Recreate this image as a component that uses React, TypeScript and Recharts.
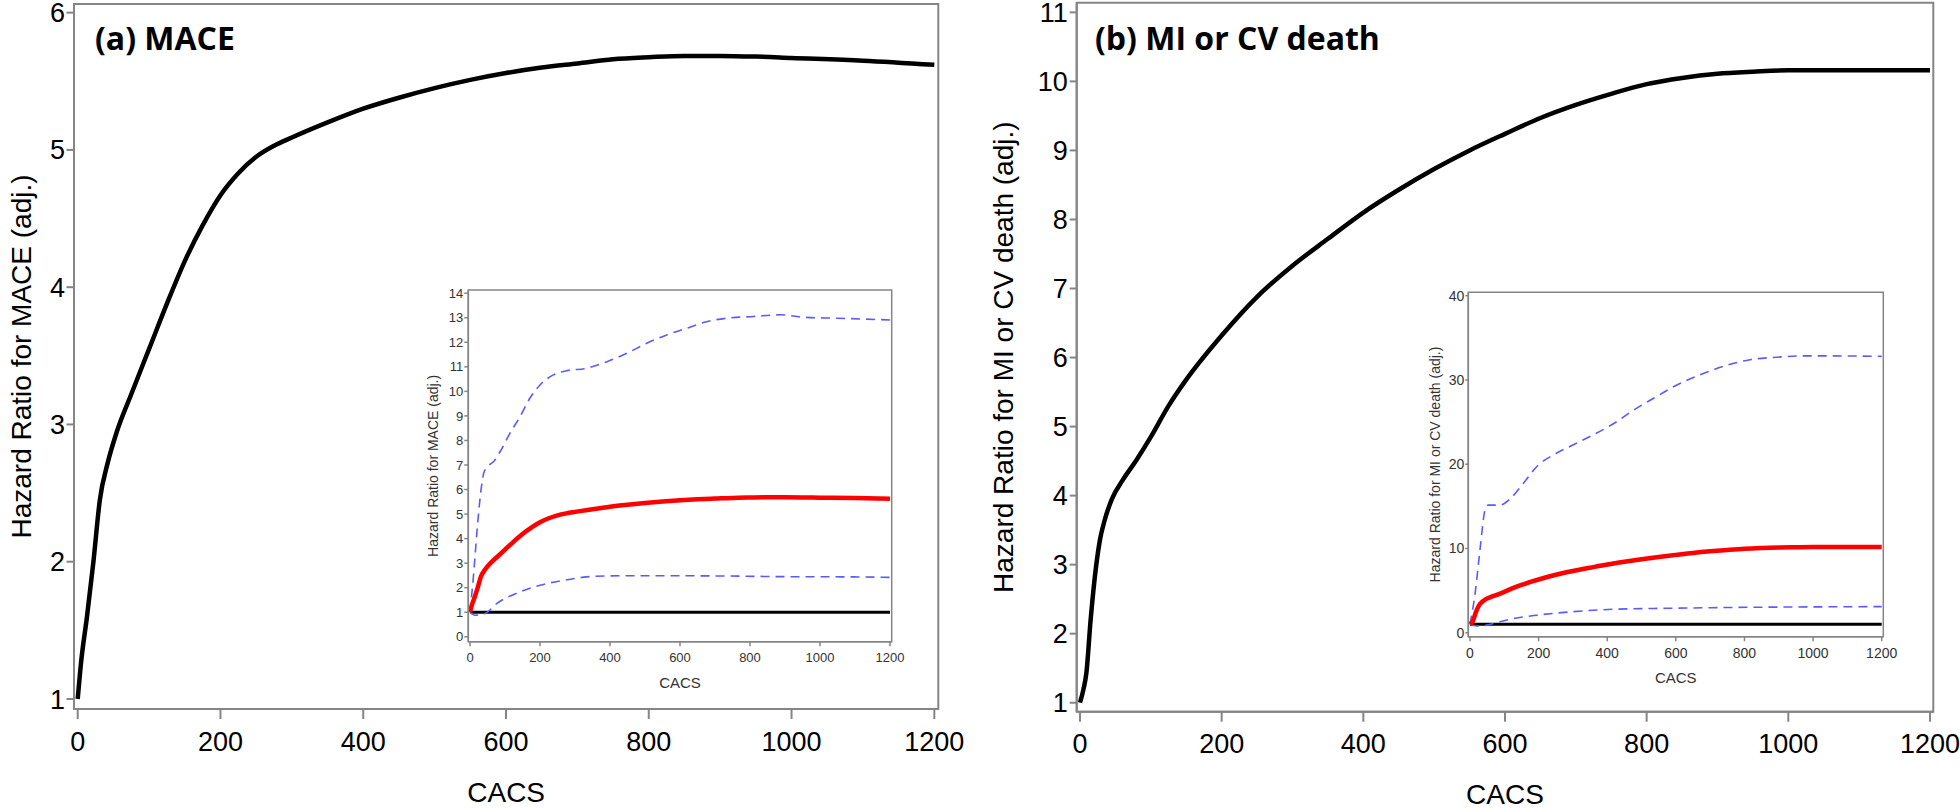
import React from 'react';
import { LineChart, Line, XAxis, YAxis, ReferenceArea } from 'recharts';

// ---------- tick labels ----------
const xTicks = [0, 200, 400, 600, 800, 1000, 1200];
const maceYTicks = [1, 2, 3, 4, 5, 6];
const mivdYTicks = [1, 2, 3, 4, 5, 6, 7, 8, 9, 10, 11];
const maceInsetYTicks = [0, 1, 2, 3, 4, 5, 6, 7, 8, 9, 10, 11, 12, 13, 14];
const mivdInsetYTicks = [0, 10, 20, 30, 40];

// ---------- (a) MACE: hazard ratio ----------
const maceCacs = [0, 5, 13, 22, 31, 42, 55, 75, 100, 125, 150, 175, 200, 225, 250, 275, 300, 350, 400, 450, 500, 550, 600, 650, 700, 750, 800, 850, 900, 950, 1000, 1100, 1200];
const maceHR = [1.0, 1.28, 1.6, 2.0, 2.45, 2.72, 2.95, 3.22, 3.55, 3.88, 4.19, 4.45, 4.67, 4.83, 4.95, 5.03, 5.09, 5.2, 5.3, 5.38, 5.45, 5.51, 5.56, 5.6, 5.63, 5.66, 5.675, 5.685, 5.685, 5.68, 5.67, 5.65, 5.62];
// upper / lower confidence limits
const maceUpperCacs = [0, 10, 20, 30, 40, 55, 67, 86, 114, 143, 171, 200, 238, 276, 333, 390, 448, 505, 562, 619, 676, 733, 810, 886, 952, 1048, 1200];
const maceUpper = [1.0, 2.5, 4.3, 5.8, 6.7, 7.0, 7.13, 7.54, 8.29, 8.97, 9.72, 10.26, 10.67, 10.84, 10.94, 11.2, 11.55, 11.96, 12.3, 12.57, 12.84, 12.98, 13.05, 13.12, 13.02, 12.98, 12.91];
const maceLowerCacs = [0, 14, 43, 76, 143, 200, 267, 333, 390, 500, 700, 900, 1100, 1200];
const maceLower = [1.0, 0.88, 0.95, 1.35, 1.83, 2.1, 2.3, 2.44, 2.48, 2.49, 2.48, 2.45, 2.44, 2.42];

// ---------- (b) MI or CV death: hazard ratio ----------
const mivdCacs = [0, 5, 9, 15, 23, 28, 35, 45, 60, 80, 100, 125, 150, 200, 250, 300, 350, 400, 450, 500, 550, 600, 650, 700, 750, 800, 850, 900, 950, 1000, 1050, 1100, 1200];
const mivdHR = [1.0, 1.2, 1.43, 2.2, 3.0, 3.35, 3.65, 3.95, 4.22, 4.52, 4.85, 5.3, 5.68, 6.32, 6.88, 7.33, 7.72, 8.1, 8.43, 8.73, 9.0, 9.24, 9.47, 9.66, 9.82, 9.96, 10.05, 10.11, 10.14, 10.16, 10.16, 10.16, 10.16];
const mivdUpperCacs = [0, 15, 29, 44, 53, 87, 117, 155, 199, 243, 301, 360, 418, 476, 534, 603, 670, 738, 816, 894, 972, 1059, 1200];
const mivdUpper = [1, 4.7, 9.8, 14.6, 15.15, 15.15, 15.9, 17.7, 19.9, 21.1, 22.3, 23.5, 24.8, 26.4, 27.8, 29.4, 30.6, 31.6, 32.4, 32.7, 32.85, 32.85, 32.8];
const mivdLowerCacs = [0, 19, 49, 78, 117, 199, 301, 428, 573, 768, 1200];
const mivdLower = [1, 0.8, 0.9, 1.2, 1.6, 2.1, 2.5, 2.8, 2.9, 3.0, 3.1];

// reference line HR = 1
const refCacs = [0, 1200];
const refHR = [1, 1];

const zip = (xs: number[], ys: number[]) => xs.map((x, i) => ({ x, y: ys[i] }));

const SANS = '"Liberation Sans", Arial, sans-serif';
const AXIS = '#858585';
const BLUE = '#5a5aff';

type MainProps = {
  left: number; width: number; height: number;
  margin: { top: number; right: number; left: number; bottom: number };
  yAxisWidth: number; xAxisHeight: number;
  xDomain: [number, number]; yDomain: [number, number];
  yTicks: number[]; yLabel: string; yLabelOffset: number; xLabelOffset: number;
  ySize: number; yMargin: number;
  data: { x: number; y: number }[];
};

const MainPanel = (p: MainProps) => (
  <div style={{ position: 'absolute', left: p.left, top: 0, width: p.width, height: p.height }}>
    <LineChart width={p.width} height={p.height} margin={p.margin}>
      <XAxis dataKey="x" type="number" domain={p.xDomain} ticks={xTicks} allowDataOverflow interval={0}
        stroke={AXIS} strokeWidth={2} tickSize={10} tickMargin={12.5} height={p.xAxisHeight}
        tick={{ fill: '#000', fontSize: 27, fontFamily: SANS }}
        label={{ value: 'CACS', position: 'insideBottom', offset: p.xLabelOffset, fill: '#000', fontSize: 28, fontFamily: SANS }} />
      <YAxis type="number" domain={p.yDomain} ticks={p.yTicks} allowDataOverflow interval={0}
        stroke={AXIS} strokeWidth={2} tickSize={p.ySize} tickMargin={p.yMargin} width={p.yAxisWidth}
        tick={{ fill: '#000', fontSize: 27, fontFamily: SANS }}
        label={{ value: p.yLabel, angle: -90, position: 'insideLeft', offset: p.yLabelOffset, textAnchor: 'middle', fill: '#000', fontSize: 28, fontFamily: SANS }} />
      <ReferenceArea x1={p.xDomain[0]} x2={p.xDomain[1]} y1={p.yDomain[0]} y2={p.yDomain[1]}
        fill="none" fillOpacity={0} stroke={AXIS} strokeWidth={2} />
      <Line data={p.data} dataKey="y" type="monotone" stroke="#000" strokeWidth={4.5} dot={false} isAnimationActive={false} />
    </LineChart>
  </div>
);

type InsetProps = {
  left: number; top: number; width: number; height: number;
  margin: { top: number; right: number; left: number; bottom: number };
  yAxisWidth: number; xAxisHeight: number;
  xDomain: [number, number]; yDomain: [number, number];
  yTicks: number[]; yLabel: string; yLabelOffset: number; xLabelOffset: number;
  tickFont: number; ySize: number;
  hr: { x: number; y: number }[]; upper: { x: number; y: number }[]; lower: { x: number; y: number }[];
};

const InsetPanel = (p: InsetProps) => (
  <div style={{ position: 'absolute', left: p.left, top: p.top, width: p.width, height: p.height }}>
    <LineChart width={p.width} height={p.height} margin={p.margin}>
      <XAxis dataKey="x" type="number" domain={p.xDomain} ticks={xTicks} allowDataOverflow interval={0}
        stroke={AXIS} strokeWidth={1.5} tickSize={4.5} tickMargin={7} height={p.xAxisHeight}
        tick={{ fill: '#333', fontSize: p.tickFont, fontFamily: SANS }}
        label={{ value: 'CACS', position: 'insideBottom', offset: p.xLabelOffset, fill: '#333', fontSize: 15, fontFamily: SANS }} />
      <YAxis type="number" domain={p.yDomain} ticks={p.yTicks} allowDataOverflow interval={0}
        stroke={AXIS} strokeWidth={1.5} tickSize={p.ySize} tickMargin={1} width={p.yAxisWidth}
        tick={{ fill: '#333', fontSize: p.tickFont, fontFamily: SANS }}
        label={{ value: p.yLabel, angle: -90, position: 'insideLeft', offset: p.yLabelOffset, textAnchor: 'middle', fill: '#333', fontSize: 14, fontFamily: SANS }} />
      <ReferenceArea x1={p.xDomain[0]} x2={p.xDomain[1]} y1={p.yDomain[0]} y2={p.yDomain[1]}
        fill="none" fillOpacity={0} stroke={AXIS} strokeWidth={1.5} />
      <Line data={zip(refCacs, refHR)} dataKey="y" type="linear" stroke="#000" strokeWidth={3} dot={false} isAnimationActive={false} />
      <Line data={p.upper} dataKey="y" type="monotone" stroke={BLUE} strokeWidth={1.6} strokeDasharray="9 6" dot={false} isAnimationActive={false} />
      <Line data={p.lower} dataKey="y" type="monotone" stroke={BLUE} strokeWidth={1.6} strokeDasharray="9 6" dot={false} isAnimationActive={false} />
      <Line data={p.hr} dataKey="y" type="monotone" stroke="#ff0000" strokeWidth={4.5} dot={false} isAnimationActive={false} />
    </LineChart>
  </div>
);

export default function App() {
  return (
    <div style={{ position: 'absolute', left: 0, top: 0, width: 1960, height: 809, background: '#fff', fontFamily: SANS }}>
      <MainPanel left={0} width={980} height={809}
        margin={{ top: 4, right: 41.7, left: 0, bottom: 0 }}
        yAxisWidth={74} xAxisHeight={100}
        xDomain={[-5.2, 1205.6]} yDomain={[0.927, 6.063]}
        yTicks={maceYTicks} yLabel="Hazard Ratio for MACE (adj.)" yLabelOffset={21} xLabelOffset={7.5}
        ySize={7.5} yMargin={1.5}
        data={zip(maceCacs, maceHR)} />
      <MainPanel left={980} width={980} height={809}
        margin={{ top: 2.7, right: 26.7, left: 0, bottom: 0 }}
        yAxisWidth={96.7} xAxisHeight={97.3}
        xDomain={[-4.66, 1204.7]} yDomain={[0.87, 11.14]}
        yTicks={mivdYTicks} yLabel="Hazard Ratio for MI or CV death (adj.)" yLabelOffset={23} xLabelOffset={5}
        ySize={7} yMargin={2}
        data={zip(mivdCacs, mivdHR)} />
      <InsetPanel left={400} top={270} width={520} height={430}
        margin={{ top: 20, right: 28.3, left: 0, bottom: 0 }}
        yAxisWidth={68.3} xAxisHeight={58.3}
        xDomain={[-4.86, 1204.9]} yDomain={[-0.2, 14.13]}
        yTicks={maceInsetYTicks} yLabel="Hazard Ratio for MACE (adj.)" yLabelOffset={33} xLabelOffset={11.7}
        tickFont={13} ySize={4}
        hr={zip(maceCacs, maceHR)} upper={zip(maceUpperCacs, maceUpper)} lower={zip(maceLowerCacs, maceLower)} />
      <InsetPanel left={1400} top={270} width={520} height={430}
        margin={{ top: 22.3, right: 36.7, left: 0, bottom: 0 }}
        yAxisWidth={68.3} xAxisHeight={63.3}
        xDomain={[-4.95, 1204.7]} yDomain={[-0.47, 40.4]}
        yTicks={mivdInsetYTicks} yLabel="Hazard Ratio for MI or CV death (adj.)" yLabelOffset={35} xLabelOffset={17.3}
        tickFont={14} ySize={3}
        hr={zip(mivdCacs, mivdHR)} upper={zip(mivdUpperCacs, mivdUpper)} lower={zip(mivdLowerCacs, mivdLower)} />
      <svg width={1960} height={809} style={{ position: 'absolute', left: 0, top: 0, pointerEvents: 'none' }}>
        <text x={95} y={50} fontFamily='"Open Sans", sans-serif' fontWeight={700} fontSize={32} fill="#000">(a) MACE</text>
        <text x={1095} y={50} fontFamily='"Open Sans", sans-serif' fontWeight={700} fontSize={32} fill="#000">(b) MI or CV death</text>
      </svg>
    </div>
  );
}
